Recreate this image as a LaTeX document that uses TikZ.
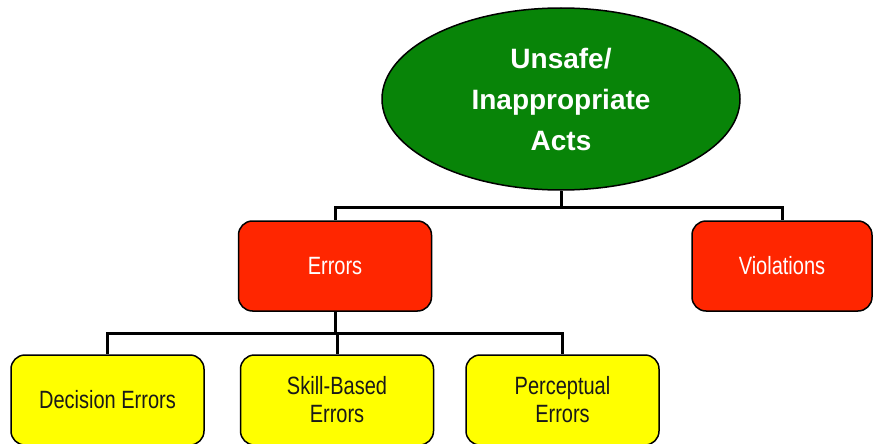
\documentclass[tikz,border=0pt]{standalone}
\usepackage{fontspec}
\setmainfont{Liberation Sans}
\newfontfamily\narrowfont[FakeStretch=0.8]{Liberation Sans}
\usetikzlibrary{shapes.geometric,positioning}
\definecolor{verde}{RGB}{8,132,8}
\definecolor{vermelho}{RGB}{255,38,0}
\definecolor{amarelo}{RGB}{255,255,0}

\begin{document}
\begin{tikzpicture}[x=1pt,y=-1pt,
        act/.style={ellipse,draw=black,line width=1.5pt,fill=verde,text=white,
                    minimum width=358pt,minimum height=182pt,inner sep=0pt,align=center,
                    font=\fontsize{28}{41}\selectfont\bfseries},
        errbox/.style={draw=black,line width=1.5pt,fill=vermelho,text=white,rounded corners=14pt,
                    minimum width=193pt,minimum height=90pt,align=center,
                    font=\narrowfont\fontsize{25}{28}\selectfont},
        kindbox/.style={errbox,fill=amarelo,text=black!90},
        link/.style={line width=3pt,black}]
      \useasboundingbox (0,0) rectangle (873,444);
      \node[act] (acts) at (561,99) {Unsafe/\\Inappropriate\\Acts};
      \node[errbox] (errors) at (335,266) {Errors};
      \node[errbox,minimum width=180pt] (viol) at (782,266) {Violations};
      \node[kindbox] (decision) at (107.5,400) {Decision Errors};
      \node[kindbox,right=35pt of decision] (skill) {Skill-Based\\Errors};
      \node[kindbox,right=31pt of skill] (percep) {Perceptual\\Errors};
      \draw[link] (acts.south) -- (acts.south |- 0,207) coordinate (bus) -| (errors.north);
      \draw[link] (bus) -| (viol.north);
      \draw[link] (errors.south) -- (errors.south |- 0,333) coordinate (bus2) -| (decision.north);
      \draw[link] (bus2) -| (skill.north);
      \draw[link] (bus2) -| (percep.north);
    \end{tikzpicture}
\end{document}
